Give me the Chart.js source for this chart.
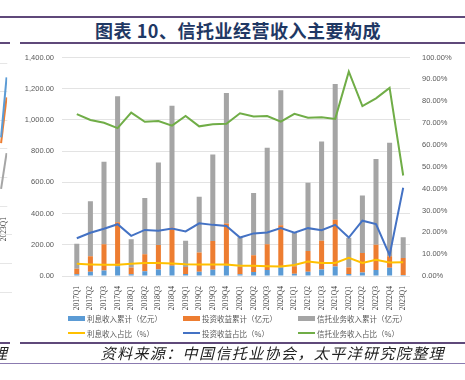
<!DOCTYPE html>
<html>
<head>
<meta charset="utf-8">
<script src="https://cdn.jsdelivr.net/npm/chart.js@4.4.1/dist/chart.umd.min.js"></script>
<style>
  body { margin: 0; width: 465px; height: 380px; position: relative; background: #fff; overflow: hidden; font-family: "Noto Sans CJK SC", sans-serif; }
  .rule { position: absolute; background: #5f497a; height: 2px; }
  #title { position: absolute; left: 10px; top: 18px; width: 456px; text-align: center; font-size: 18px; font-weight: bold; color: #1f3864; line-height: 24px; letter-spacing: 0.5px; }
  #main { position: absolute; left: 20px; top: 45px; width: 445px; height: 265px; }
  #side { position: absolute; left: -30px; top: 55px; width: 46px; height: 186px; }
  #legend { position: absolute; left: 68px; top: 312px; width: 345px; display: grid; grid-template-columns: 115px 115px 115px; row-gap: 3px; }
  .item { display: flex; align-items: center; font-size: 7.5px; color: #595959; height: 12px; white-space: nowrap; }
  .swatch { width: 17px; margin-right: 2px; }
  #source { position: absolute; right: 20px; top: 343px; font-size: 15px; line-height: 20px; font-style: italic; color: #222; letter-spacing: 1.4px; }
  #cut { position: absolute; left: -8px; top: 343px; font-size: 15px; line-height: 20px; font-style: italic; color: #222; }
  .faint { position: absolute; left: 0; width: 12px; height: 1px; background: #e6e6e6; }
</style>
</head>
<body>
<div class="rule" style="top:16px;left:0;width:465px;"></div>
<div id="title">图表 10、信托业经营收入主要构成</div>
<div class="rule" style="top:42px;left:0;width:10px;"></div>
<div class="rule" style="top:42px;left:20px;width:445px;"></div>

<div id="side"><canvas id="sideChart"></canvas></div>
<div class="faint" style="top:234px"></div>
<div class="faint" style="top:263px"></div>
<div class="faint" style="top:292px"></div>

<div id="main"><canvas id="incomeChart"></canvas></div>
<div id="legend"></div>

<div class="rule" style="top:342px;left:0;width:10px;"></div>
<div class="rule" style="top:342px;left:20px;width:445px;"></div>
<div id="cut">理</div>
<div id="source">资料来源：中国信托业协会，太平洋研究院整理</div>
<div style="position:absolute;top:363px;left:0;width:465px;height:1px;background:#8b7bb0;"></div>

<script>
// quarters on the x axis
const quarters = ['2017Q1', '2017Q2', '2017Q3', '2017Q4', '2018Q1', '2018Q2', '2018Q3', '2018Q4',
    '2019Q1', '2019Q2', '2019Q3', '2019Q4', '2020Q1', '2020Q2', '2020Q3', '2020Q4',
    '2021Q1', '2021Q2', '2021Q3', '2021Q4', '2022Q1', '2022Q2', '2022Q3', '2022Q4', '2023Q1'];

// cumulative income (亿元)
const interestIncome = [11, 27, 36, 63, 11, 30, 42, 65, 13, 27, 40, 65, 11, 25, 38, 55, 15, 27, 42, 61, 13, 23, 38, 53, 6];
const investIncome = [35, 100, 167, 281, 44, 109, 156, 245, 44, 123, 184, 272, 46, 108, 166, 270, 48, 133, 184, 300, 42, 125, 162, 74, 110];
const trustIncome = [161, 352, 529, 808, 181, 361, 530, 781, 169, 358, 554, 836, 192, 399, 617, 865, 214, 437, 635, 869, 190, 367, 549, 727, 133];

// shares of total income (%)
const interestShare = [5.6, 5.3, 5.1, 5.1, 5.6, 5.9, 6.0, 5.7, 5.4, 5.3, 5.3, 5.3, 4.7, 4.7, 4.5, 4.4, 5.0, 6.6, 6.0, 6.0, 8.3, 6.0, 7.4, 6.2, 6.3];
const investShare = [17.3, 19.8, 21.6, 23.7, 18.4, 21.1, 20.7, 21.7, 20.4, 24.1, 23.4, 22.9, 17.6, 19.5, 19.9, 21.9, 19.8, 21.9, 21.0, 23.4, 17.6, 25.3, 23.8, 9.5, 40.4];
const trustShare = [74.1, 71.4, 70.1, 67.7, 74.8, 70.6, 70.9, 68.8, 73.2, 68.5, 69.4, 69.7, 74.5, 73.0, 73.2, 70.6, 74.2, 72.4, 72.7, 71.9, 93.5, 77.8, 81.3, 86.1, 46.0];

// the clipped neighbour chart on the left edge (only its last quarter shows)
const sideX = [0.85, 1];
const sideBlue = [2.4, 4.5];
const sideOrange = [2.2, 3.8];
const sideGray = [0.6, 1.85];

Chart.defaults.font.family = '"Liberation Sans", sans-serif';
Chart.defaults.color = '#595959';
Chart.defaults.animation = false;

const ctx = document.getElementById('incomeChart').getContext('2d');
const incomeChart = new Chart(ctx, {
    data: {
        labels: quarters,
        datasets: [
            { type: 'bar', label: '利息收入累计（亿元）', data: interestIncome, backgroundColor: '#5b9bd5', yAxisID: 'y', order: 2 },
            { type: 'bar', label: '投资收益累计（亿元）', data: investIncome, backgroundColor: '#ed7d31', yAxisID: 'y', order: 2 },
            { type: 'bar', label: '信托业务收入累计（亿元）', data: trustIncome, backgroundColor: '#a5a5a5', yAxisID: 'y', order: 2 },
            { type: 'line', label: '利息收入占比（%）', data: interestShare, borderColor: '#ffc000', backgroundColor: '#ffc000', yAxisID: 'y1', order: 1 },
            { type: 'line', label: '投资收益占比（%）', data: investShare, borderColor: '#4472c4', backgroundColor: '#4472c4', yAxisID: 'y1', order: 1 },
            { type: 'line', label: '信托业务收入占比（%）', data: trustShare, borderColor: '#70ad47', backgroundColor: '#70ad47', yAxisID: 'y1', order: 1 }
        ]
    },
    options: {
        responsive: true,
        maintainAspectRatio: false,
        layout: { padding: { top: 10 } },
        datasets: {
            bar: { barPercentage: 0.37, categoryPercentage: 1 },
            line: { borderWidth: 2, pointRadius: 0, tension: 0 }
        },
        plugins: { legend: { display: false }, tooltip: { enabled: false } },
        scales: {
            x: {
                stacked: true,
                grid: { display: false },
                border: { display: false },
                ticks: { minRotation: 90, maxRotation: 90, autoSkip: false, padding: 2, font: { family: '"Liberation Serif", serif', size: 7.5 }, color: '#404040' },
                afterFit: s => { s.height = 34; }
            },
            y: {
                stacked: true,
                position: 'left',
                min: 0, max: 1400,
                ticks: { stepSize: 200, padding: 8, font: { size: 7.5 }, callback: v => v.toLocaleString('en-US', { minimumFractionDigits: 2, maximumFractionDigits: 2 }) },
                grid: { color: '#e3e3e3' },
                border: { display: false },
                afterFit: s => { s.width = 50; }
            },
            y1: {
                position: 'right',
                min: 0, max: 100,
                ticks: { stepSize: 10, padding: 4, font: { size: 7.5 }, callback: v => v.toFixed(2) + '%' },
                grid: { display: false },
                border: { display: false },
                afterFit: s => { s.width = 55; }
            }
        }
    }
});

// legend laid out in three columns like the original
const legendBox = document.getElementById('legend');
incomeChart.data.datasets.forEach(ds => {
    const item = document.createElement('div');
    item.className = 'item';
    const sw = document.createElement('span');
    sw.className = 'swatch';
    sw.style.height = ds.type === 'bar' ? '5px' : '2px';
    sw.style.background = ds.type === 'bar' ? ds.backgroundColor : ds.borderColor;
    item.appendChild(sw);
    item.appendChild(document.createTextNode(ds.label));
    legendBox.appendChild(item);
});

// Sliver of the previous chart
const toPoints = ys => ys.map((y, i) => ({ x: sideX[i], y: y }));
const sideCtx = document.getElementById('sideChart').getContext('2d');
new Chart(sideCtx, {
    type: 'line',
    data: {
        datasets: [
            { data: toPoints(sideBlue), borderColor: '#5b9bd5' },
            { data: toPoints(sideOrange), borderColor: '#ed7d31' },
            { data: toPoints(sideGray), borderColor: '#a5a5a5' }
        ]
    },
    options: {
        responsive: true,
        maintainAspectRatio: false,
        layout: { padding: { top: 8, left: 0, right: 0 } },
        elements: { line: { borderWidth: 2, tension: 0 }, point: { radius: 0 } },
        plugins: { legend: { display: false }, tooltip: { enabled: false } },
        scales: {
            x: {
                type: 'linear',
                min: 0, max: 1.02,
                grid: { display: false },
                border: { display: false },
                afterBuildTicks: s => { s.ticks = [{ value: 0.93 }]; },
                ticks: { minRotation: 90, maxRotation: 90, font: { family: '"Liberation Serif", serif', size: 7.5 }, color: '#404040', callback: () => '2023Q1' },
                afterFit: s => { s.height = 35; }
            },
            y: {
                min: 0, max: 5,
                ticks: { display: false, stepSize: 1 },
                grid: { color: '#e6e6e6', drawTicks: false },
                border: { display: false },
                afterFit: s => { s.width = 0; }
            }
        }
    }
});
</script>
</body>
</html>
